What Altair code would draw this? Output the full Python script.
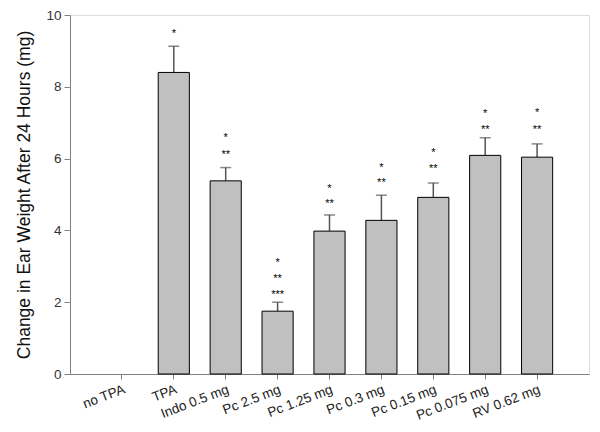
import altair as alt
import pandas as pd

categories = ["no TPA", "TPA", "Indo 0.5 mg", "Pc 2.5 mg", "Pc 1.25 mg",
              "Pc 0.3 mg", "Pc 0.15 mg", "Pc 0.075 mg", "RV 0.62 mg"]
means = [None, 8.40, 5.38, 1.75, 3.98, 4.28, 4.92, 6.09, 6.04]
err_tops = [None, 9.13, 5.75, 2.00, 4.43, 4.98, 5.32, 6.58, 6.41]

# significance markers: category, label, vertical position (mg)
star_cats = ["TPA", "Indo 0.5 mg", "Indo 0.5 mg", "Pc 2.5 mg", "Pc 2.5 mg", "Pc 2.5 mg",
             "Pc 1.25 mg", "Pc 1.25 mg", "Pc 0.3 mg", "Pc 0.3 mg", "Pc 0.15 mg", "Pc 0.15 mg",
             "Pc 0.075 mg", "Pc 0.075 mg", "RV 0.62 mg", "RV 0.62 mg"]
star_labels = ["*", "*", "**", "*", "**", "***", "*", "**", "*", "**", "*", "**",
               "*", "**", "*", "**"]
star_pos = [9.56, 6.66, 6.19, 3.18, 2.73, 2.29, 5.25, 4.81, 5.83, 5.39, 6.24, 5.80,
            7.32, 6.88, 7.35, 6.88]

df = pd.DataFrame({"cat": categories, "mean": means, "top": err_tops})
stars = pd.DataFrame({"cat": star_cats, "label": star_labels, "pos": star_pos})

FONT = "Liberation Sans"

x = alt.X("cat:N", sort=categories,
          scale=alt.Scale(domain=categories, paddingInner=0.4, paddingOuter=0.7),
          axis=alt.Axis(title=None, labelAngle=-21, labelFontSize=13.5, labelColor="#222",
                        labelFont=FONT, tickColor="#808080", domainColor="#808080",
                        tickSize=5, labelPadding=3))
yscale = alt.Scale(domain=[0, 10], nice=False)
y = alt.Y("mean:Q", scale=yscale,
          axis=alt.Axis(title="Change in Ear Weight After 24 Hours (mg)", values=[0, 2, 4, 6, 8, 10],
                        grid=False, titleFontSize=17.5, titleFontWeight="normal", titleFont=FONT,
                        titleColor="#111", labelFontSize=13.5, labelFont=FONT, labelColor="#333",
                        tickColor="#808080", domainColor="#808080", tickSize=6,
                        labelPadding=3, titlePadding=12))

base = alt.Chart(df)

whisker = base.mark_rule(color="#555555", strokeWidth=1.5).encode(
    x=x, y=alt.Y("mean:Q", scale=yscale), y2="top:Q")
cap = base.mark_tick(color="#555555", size=11, thickness=1.5).encode(
    x=x, y=alt.Y("top:Q", scale=yscale))
bars = base.mark_bar(color="#c0c0c0", stroke="#000000", strokeWidth=1).encode(x=x, y=y)

text = alt.Chart(stars).mark_text(fontSize=11, font=FONT, color="#000000", baseline="middle", dy=3).encode(
    x=alt.X("cat:N", sort=categories), y=alt.Y("pos:Q", scale=yscale), text="label:N")

chart = alt.layer(whisker, cap, bars, text).properties(
    width=519, height=359,
    autosize=alt.AutoSizeParams(type="none"),
    padding={"left": 62, "top": 7, "right": 3, "bottom": 50},
).configure_view(stroke="#808080", strokeWidth=1).configure(background="white")

chart.save("out.html", embed_options={"renderer": "svg", "actions": False})
